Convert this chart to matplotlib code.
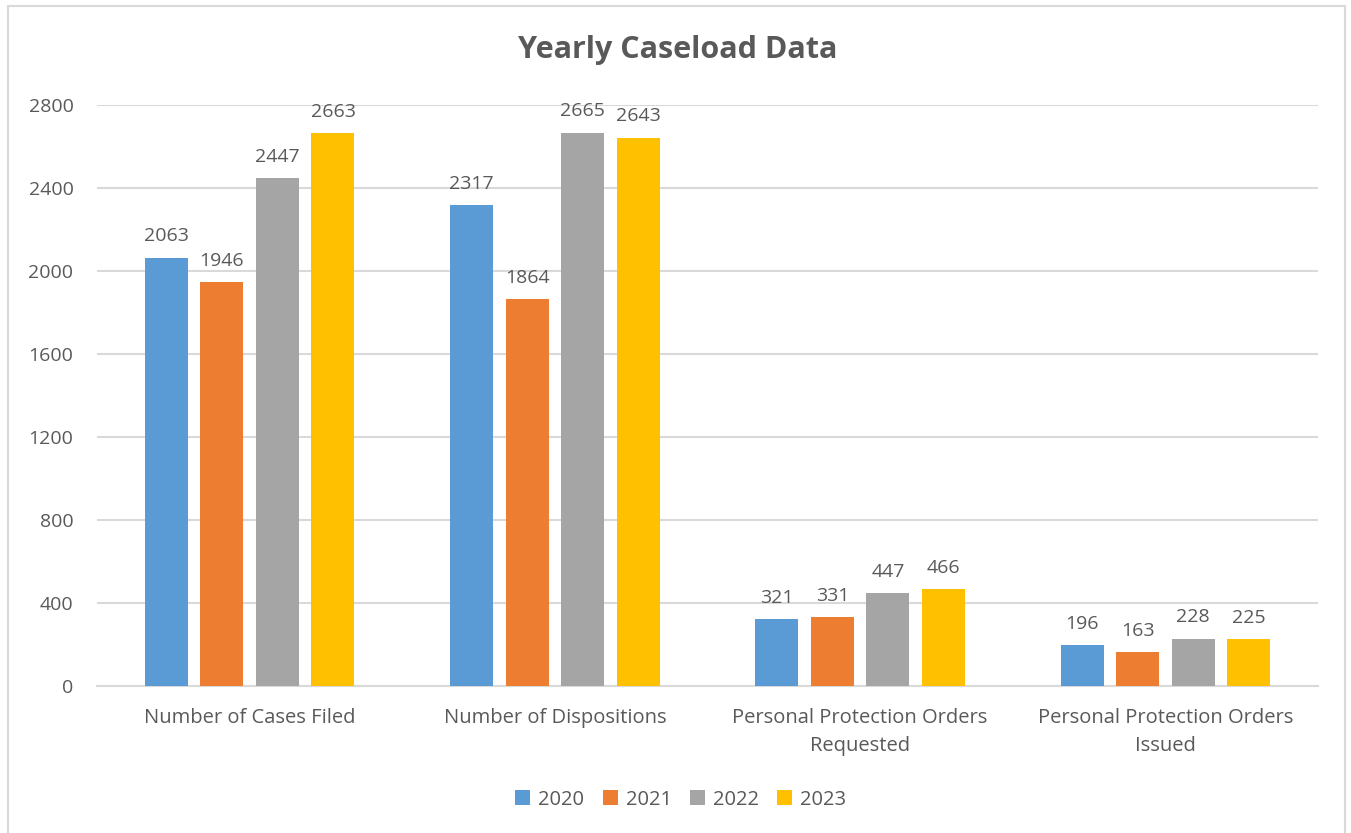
import matplotlib

matplotlib.use("Agg")
import matplotlib.pyplot as plt
import numpy as np
from matplotlib.patches import Rectangle

categories = [
    "Number of Cases Filed",
    "Number of Dispositions",
    "Personal Protection Orders\nRequested",
    "Personal Protection Orders\nIssued",
]
years = ["2020", "2021", "2022", "2023"]
values_2020 = [2063, 2317, 321, 196]
values_2021 = [1946, 1864, 331, 163]
values_2022 = [2447, 2665, 447, 228]
values_2023 = [2663, 2643, 466, 225]
y_ticks = [0, 400, 800, 1200, 1600, 2000, 2400, 2800]

colors = ["#5b9bd5", "#ed7d31", "#a5a5a5", "#ffc000"]
text_color = "#595959"
grid_color = "#d9d9d9"

plt.rcParams["font.family"] = ["Open Sans", "DejaVu Sans"]

fig = plt.figure(figsize=(13.51, 8.33), dpi=100)
ax = fig.add_axes([0.0718, 0.1765, 0.9038, 0.6975])

x = np.arange(len(categories))
bar_width = 0.141
step = 0.182
series = [values_2020, values_2021, values_2022, values_2023]
for i, (year, vals, color) in enumerate(zip(years, series, colors)):
    offset = (i - 1.5) * step
    bars = ax.bar(x + offset, vals, bar_width, color=color, label=year, zorder=3)
    ax.bar_label(bars, labels=[str(v) for v in vals], padding=9,
                 fontsize=14, color=text_color)

ax.set_xlim(-0.5, len(categories) - 0.5)
ax.set_ylim(0, 2800)
ax.set_yticks(y_ticks)
ax.set_yticklabels([str(t) for t in y_ticks])
ax.set_xticks(x)
ax.set_xticklabels(categories, fontsize=14.5, color=text_color, linespacing=1.55)
ax.tick_params(axis="y", labelsize=14, labelcolor=text_color, length=0, pad=17)
ax.tick_params(axis="x", length=0, pad=16)
ax.yaxis.grid(True, color=grid_color, linewidth=1.5, zorder=0)
for side in ["top", "right", "left"]:
    ax.spines[side].set_visible(False)
ax.spines["bottom"].set_color(grid_color)
ax.spines["bottom"].set_linewidth(1.5)

# title is centred on the whole figure, not the plot area
fig.text(0.5015, 0.94, "Yearly Caseload Data", fontsize=22, fontweight="bold",
         color=text_color, ha="center", va="center")

fig.legend(loc="center", bbox_to_anchor=(0.504, 0.04), ncol=4, frameon=False,
           fontsize=14.5, labelcolor=text_color, handlelength=0.75,
           handleheight=0.75, handletextpad=0.4, columnspacing=0.9)

# light frame around the whole chart area
fig.patches.append(Rectangle((8 / 1351, -0.01), 1337 / 1351, 1.01 - 6 / 833,
                             transform=fig.transFigure, fill=False,
                             edgecolor=grid_color, linewidth=1.5))

fig.savefig("out.png", dpi=100)
